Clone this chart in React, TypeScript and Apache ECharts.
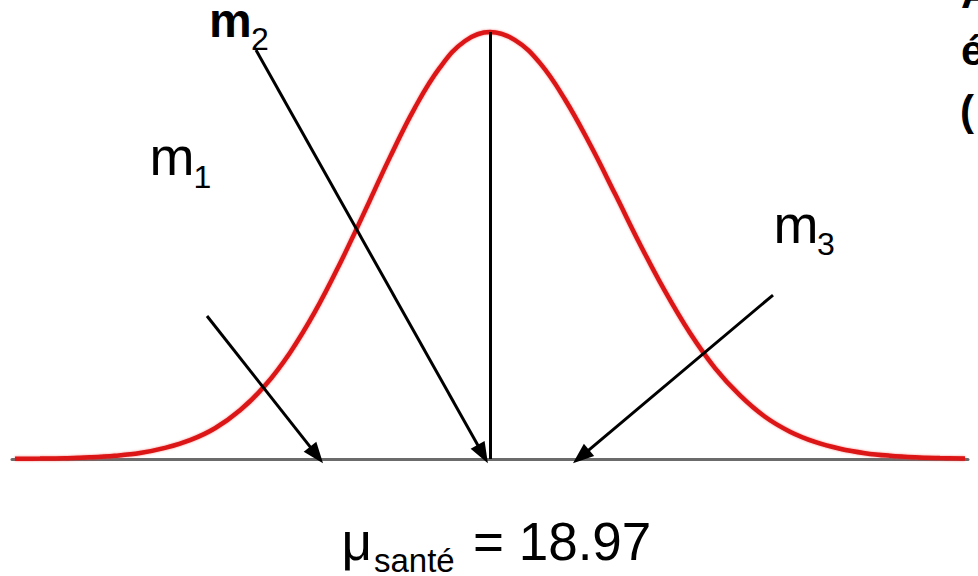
import React, { useEffect, useRef } from "react";
import * as echarts from "echarts";

// Bell curve of the health score, x in standard units around the mean
const curveX = [
  -3.8, -3.6, -3.4, -3.2, -3.0, -2.8, -2.6, -2.4, -2.2, -2.0, -1.8, -1.6, -1.4, -1.2, -1.0,
  -0.8, -0.6, -0.4, -0.2, 0, 0.2, 0.4, 0.6, 0.8, 1.0, 1.2, 1.4, 1.6, 1.8, 2.0, 2.2, 2.4,
  2.6, 2.8, 3.0, 3.2, 3.4, 3.6, 3.8,
];
const curveY = [
  0.0004, 0.0009, 0.0019, 0.0039, 0.0076, 0.014, 0.026, 0.044, 0.072, 0.114, 0.172, 0.249,
  0.345, 0.458, 0.581, 0.707, 0.823, 0.917, 0.979, 1.0, 0.981, 0.927, 0.842, 0.737, 0.621,
  0.503, 0.393, 0.295, 0.213, 0.149, 0.099, 0.064, 0.04, 0.024, 0.0137, 0.0076, 0.004, 0.0021,
  0.001,
];

// Sample means m1, m2, m3: arrows from the label down to the axis [fromX, fromY, toX, toY]
const meanArrows = [
  [-2.264, 0.335, -1.388, 0.0095],
  [-1.872, 0.958, -0.058, 0.0115],
  [2.264, 0.384, 0.728, 0.0058],
];

const meanLabel = "μ";
const meanSub = "santé";
const meanValue = "= 18.97";

const FONT = "'Liberation Sans', Arial, Helvetica, sans-serif";

export default function App() {
  const ref = useRef<HTMLDivElement>(null);

  useEffect(() => {
    document.body.style.margin = "0";
    if (!ref.current) return;
    const chart = echarts.init(ref.current, undefined, { renderer: "svg" });

    const txt = (
      text: string,
      x: number,
      y: number,
      size: number,
      weight: string = "normal"
    ) => ({
      type: "text",
      x,
      y,
      z: 10,
      style: {
        text,
        fill: "#000",
        fontSize: size,
        fontWeight: weight,
        fontFamily: FONT,
        lineHeight: Math.round(size * 0.8),
        align: "left",
        verticalAlign: "middle",
      },
    });

    const arrowLines = meanArrows.map((a) => [
      { coord: [a[0], a[1]], symbol: "none" },
      { coord: [a[2], a[3]], symbol: "triangle", symbolSize: [16, 21] },
    ]);

    chart.setOption({
      animation: false,
      backgroundColor: "#ffffff",
      grid: { left: 12, right: 10, top: 32, bottom: 117 },
      xAxis: {
        type: "value",
        min: -3.824,
        max: 3.824,
        axisLine: { show: true, onZero: false, lineStyle: { color: "#6b6b6b", width: 3 } },
        axisTick: { show: false },
        axisLabel: { show: false },
        splitLine: { show: false },
      },
      yAxis: { type: "value", min: 0, max: 1, show: false },
      series: [
        {
          type: "line",
          data: curveX.map((x, i) => [x, curveY[i]]),
          showSymbol: false,
          smooth: 0.4,
          clip: false,
          z: 3,
          lineStyle: {
            color: "#dc1414",
            width: 4.5,
            shadowBlur: 2,
            shadowColor: "rgba(235,60,60,0.6)",
          },
          markLine: {
            silent: true,
            animation: false,
            label: { show: false },
            symbol: ["none", "triangle"],
            symbolSize: [16, 21],
            lineStyle: { color: "#000", width: 3, type: "solid" },
            data: [
              [
                { coord: [0, 1], symbol: "none", lineStyle: { width: 3, color: "#000" } },
                { coord: [0, 0], symbol: "none" },
              ],
              ...arrowLines,
            ],
          },
        },
      ],
      graphic: [
        txt("m", 209, 20.4, 48, "bold"),
        txt("2", 251, 38.9, 32),
        txt("m", 149.5, 156.3, 54),
        txt("1", 193.5, 176.9, 32),
        txt("m", 773.4, 224.3, 54),
        txt("3", 817, 243.9, 32),
        txt(meanLabel, 341.5, 541.6, 53),
        txt(meanSub, 374, 560.6, 33),
        txt(meanValue, 473, 541.6, 53),
        txt("A", 961, -6.6, 42, "bold"),
        txt("é", 961, 50.4, 42, "bold"),
        txt("(", 960, 110.5, 42, "bold"),
      ],
    });

    return () => chart.dispose();
  }, []);

  return <div ref={ref} style={{ width: 978, height: 576 }} />;
}
